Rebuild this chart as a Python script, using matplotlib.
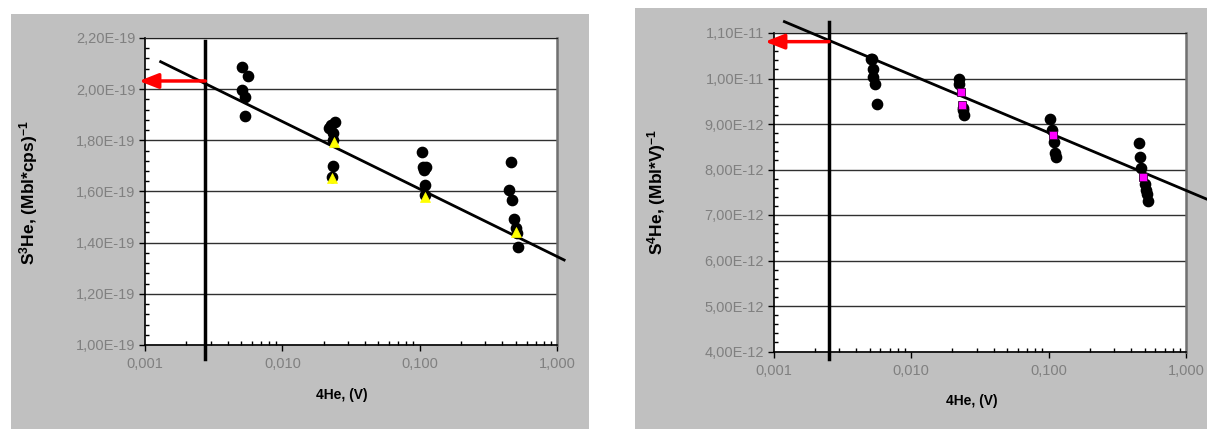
import matplotlib
matplotlib.use("Agg")
import matplotlib.pyplot as plt
from matplotlib.patches import Rectangle
from matplotlib.ticker import MultipleLocator, LogLocator, NullFormatter
import numpy as np

plt.rcParams['font.family'] = ['Liberation Sans', 'DejaVu Sans']
plt.rcParams['mathtext.fontset'] = 'custom'
plt.rcParams['mathtext.rm'] = 'Liberation Sans:bold'
plt.rcParams['mathtext.it'] = 'Liberation Sans:bold'
plt.rcParams['mathtext.bf'] = 'Liberation Sans:bold'

# ---- left chart: S3He, values in units of 1E-19 ----
he3_x = [0.00509, 0.00560, 0.00509, 0.00535, 0.00532,
         0.0220, 0.0226, 0.0243, 0.0235, 0.0235, 0.0235, 0.0229,
         0.1035, 0.106, 0.112, 0.108, 0.109, 0.110,
         0.460, 0.446, 0.474, 0.483, 0.505, 0.510, 0.521]
he3_y = [2.085, 2.051, 1.997, 1.968, 1.896,
         1.850, 1.858, 1.870, 1.827, 1.801, 1.701, 1.658,
         1.753, 1.697, 1.697, 1.683, 1.625, 1.588,
         1.715, 1.606, 1.567, 1.494, 1.457, 1.437, 1.384]
he3_tri_x = [0.0237, 0.0230, 0.110, 0.507]
he3_tri_y = [1.795, 1.652, 1.580, 1.440]
he3_fit = (1.346, -0.2638)          # a + b*log10(x)
he3_fit_range = (0.0013, 1.127)
he3_vline = 0.00275
he3_vline_span = (0.945, 2.188)
he3_arrow = (0.000904, 2.032)
he3_yticks = [1.0, 1.2, 1.4, 1.6, 1.8, 2.0, 2.2]
he3_ylabels = ["1,00E-19", "1,20E-19", "1,40E-19", "1,60E-19",
               "1,80E-19", "2,00E-19", "2,20E-19"]

# ---- right chart: S4He, values in units of 1E-12 ----
he4_x = [0.00517, 0.00508, 0.00525, 0.00531, 0.00543, 0.00567,
         0.0224, 0.0224, 0.0239, 0.0242, 0.0240,
         0.103, 0.106, 0.109, 0.111, 0.113,
         0.454, 0.464, 0.474, 0.501, 0.513, 0.522, 0.525]
he4_y = [10.42, 10.43, 10.21, 10.04, 9.88, 9.45,
         9.98, 9.89, 9.30, 9.19, 9.35,
         9.12, 8.86, 8.61, 8.37, 8.28,
         8.59, 8.28, 8.04, 7.69, 7.54, 7.46, 7.31]
he4_sq_x = [0.0231, 0.0235, 0.108, 0.490]
he4_sq_y = [9.71, 9.42, 8.75, 7.84]
he4_fit = (7.540, -1.270)
he4_fit_range = (0.00120, 1.40)
he4_vline = 0.00253
he4_vline_span = (3.835, 11.24)
he4_arrow = (0.000867, 10.81)
he4_yticks = [4, 5, 6, 7, 8, 9, 10, 11]
he4_ylabels = ["4,00E-12", "5,00E-12", "6,00E-12", "7,00E-12",
               "8,00E-12", "9,00E-12", "1,00E-11", "1,10E-11"]

xticks = [0.001, 0.01, 0.1, 1.0]
xlabels = ["0,001", "0,010", "0,100", "1,000"]

W, H = 1207, 429
fig = plt.figure(figsize=(W / 100, H / 100), dpi=100)
fig.patch.set_facecolor('white')

# grey chart areas
fig.patches.append(Rectangle((11 / W, 0), 578 / W, 415 / H, transform=fig.transFigure,
                             facecolor='#c0c0c0', edgecolor='none', zorder=-10))
fig.patches.append(Rectangle((635 / W, 0), 572 / W, 421 / H, transform=fig.transFigure,
                             facecolor='#c0c0c0', edgecolor='none', zorder=-10))

ax1 = fig.add_axes([145 / W, 1 - 345 / H, 412 / W, 307 / H])
ax2 = fig.add_axes([773.5 / W, 1 - 351.5 / H, 412.5 / W, 318.5 / H])


def setup(ax, yticks, ylabels, yminor, ylim):
    ax.set_facecolor('white')
    ax.set_xscale('log')
    ax.set_xlim(0.001, 1.0)
    ax.set_ylim(*ylim)
    ax.set_xticks(xticks)
    ax.set_xticklabels(xlabels)
    ax.xaxis.set_minor_locator(LogLocator(base=10, subs=np.arange(2, 10)))
    ax.xaxis.set_minor_formatter(NullFormatter())
    ax.set_yticks(yticks)
    ax.set_yticklabels(ylabels)
    ax.yaxis.set_minor_locator(MultipleLocator(yminor))
    ax.tick_params(which='major', direction='out', length=4, width=1,
                   colors='black', labelcolor='#808080', labelsize=10.5, pad=3)
    ax.tick_params(which='minor', direction='in', length=3, width=1, colors='black')
    ax.tick_params(axis='x', which='major', pad=5)
    ax.grid(True, axis='y', which='major', color='#303030', lw=1)
    ax.set_axisbelow(True)
    for s in ('left', 'bottom'):
        ax.spines[s].set_color('black')
        ax.spines[s].set_linewidth(1.2)
    ax.spines['top'].set_color('#202020')
    ax.spines['right'].set_color('#707070')
    ax.spines['right'].set_linewidth(1.8)


setup(ax1, he3_yticks, he3_ylabels, 0.04, (1.0, 2.2))
setup(ax2, he4_yticks, he4_ylabels, 0.2, (4.0, 11.0))


def draw(ax, xs, ys, fit, frange, vline, vspan, arrow):
    lx = np.array(frange)
    ax.plot(lx, fit[0] + fit[1] * np.log10(lx), color='black', lw=2, clip_on=False, zorder=3)
    ax.plot([vline, vline], vspan, color='black', lw=2.5, clip_on=False, zorder=3)
    ax.annotate('', xy=arrow, xytext=(vline, arrow[1]), annotation_clip=False,
                arrowprops=dict(arrowstyle='-|>,head_length=1.15,head_width=0.45',
                                mutation_scale=10, color='red', lw=2.5,
                                shrinkA=0, shrinkB=0), zorder=4)
    ax.plot(xs, ys, 'o', color='black', ms=7.4, mec='black', zorder=5, clip_on=False)


draw(ax1, he3_x, he3_y, he3_fit, he3_fit_range, he3_vline, he3_vline_span, he3_arrow)
ax1.plot(he3_tri_x, he3_tri_y, '^', color='#ffff00', ms=6.5, mec='#ffff00', mew=0.5, zorder=6)

draw(ax2, he4_x, he4_y, he4_fit, he4_fit_range, he4_vline, he4_vline_span, he4_arrow)
ax2.plot(he4_sq_x, he4_sq_y, 's', color='#ff00ff', ms=5.5, mec='#400040', mew=0.6, zorder=6)

ax1.set_xlabel("4He, (V)", fontsize=10, fontweight='bold')
ax2.set_xlabel("4He, (V)", fontsize=10, fontweight='bold')
ax1.xaxis.set_label_coords(0.478, -0.14)
ax2.xaxis.set_label_coords(0.481, -0.133)

ax1.set_ylabel(r"S$^{3}$He, (Mbl*cps)$^{-1}$", fontsize=12.5, fontweight='bold')
ax2.set_ylabel(r"S$^{4}$He, (Mbl*V)$^{-1}$", fontsize=12.5, fontweight='bold')
ax1.yaxis.set_label_coords(-0.255, 0.495)
ax2.yaxis.set_label_coords(-0.256, 0.50)

fig.savefig("out.png", dpi=100, facecolor='white')
